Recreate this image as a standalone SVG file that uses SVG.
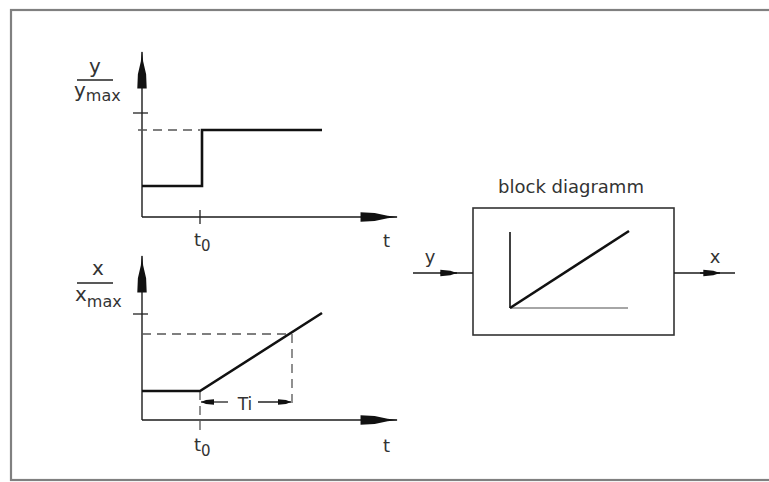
<svg xmlns="http://www.w3.org/2000/svg" width="769" height="482" viewBox="0 0 769 482">
<style>
.ax{stroke:#1a1a1a;stroke-width:1.4;fill:none}
.cv{stroke:#111;stroke-width:2.6;fill:none}
.ds{stroke:#555;stroke-width:1.3;fill:none;stroke-dasharray:9,6}
.tk{stroke:#222;stroke-width:1.3;fill:none}
.lb{font-family:"DejaVu Sans",sans-serif;fill:#333}
</style>
<defs>
<marker id="ah" markerUnits="userSpaceOnUse" orient="auto" refX="0" refY="0" markerWidth="40" markerHeight="20" viewBox="-32 -6 34 12" overflow="visible">
<path d="M1,0 L-8,-1 L-19,-3.5 L-31,-4 L-31,4 L-19,3.5 L-8,1 Z" fill="#111"/>
</marker>
<marker id="sh" markerUnits="userSpaceOnUse" orient="auto" refX="0" refY="0" markerWidth="20" markerHeight="10" viewBox="-16 -4 18 8" overflow="visible">
<path d="M0,0 L-6,-2 L-15,-3 L-15,3 L-6,2 Z" fill="#111"/>
</marker>
<marker id="dh" markerUnits="userSpaceOnUse" orient="auto" refX="0" refY="0" markerWidth="16" markerHeight="8" viewBox="-14 -4 16 8" overflow="visible">
<path d="M0,0 L-5,-2 L-13,-2.7 L-13,2.7 L-5,2 Z" fill="#111"/>
</marker>
</defs>
<rect x="0" y="0" width="769" height="482" fill="#fff"/>
<rect x="11" y="10" width="770" height="470" fill="none" stroke="#808080" stroke-width="2.2"/>

<g id="chart-y">
<line class="ax" x1="142" y1="217" x2="397" y2="217" marker-end="url(#ah)"/>
<line class="ax" x1="142" y1="217" x2="142" y2="52" marker-end="url(#ah)"/>
<line class="tk" x1="133" y1="113" x2="148" y2="113"/>
<line class="tk" x1="200" y1="210" x2="200" y2="224"/>
<line class="ds" x1="138" y1="130" x2="200" y2="130"/>
<polyline class="cv" points="142,186 202,186 202,130 322,130"/>
<text class="lb" x="95" y="73" font-size="20" text-anchor="middle">y</text>
<line class="tk" x1="77" y1="80" x2="113" y2="80"/>
<text class="lb" x="74" y="97" font-size="20">y<tspan font-size="16" dy="4">max</tspan></text>
<text class="lb" x="194" y="246" font-size="18">t<tspan font-size="15" dy="5">0</tspan></text>
<text class="lb" x="383" y="247" font-size="18">t</text>
</g>

<g id="chart-x">
<line class="ax" x1="142" y1="420" x2="397" y2="420" marker-end="url(#ah)"/>
<line class="ax" x1="142" y1="420" x2="142" y2="256" marker-end="url(#ah)"/>
<line class="tk" x1="133" y1="314" x2="148" y2="314"/>
<line class="ds" x1="142" y1="334" x2="290" y2="334"/>
<line class="ds" x1="292" y1="334" x2="292" y2="408"/>
<line class="ds" x1="200" y1="391" x2="200" y2="430"/>
<polyline class="cv" points="142,391 200,391 322,313"/>
<line class="tk" x1="228" y1="402" x2="201" y2="402" marker-end="url(#dh)"/>
<line class="tk" x1="258" y1="402" x2="291" y2="402" marker-end="url(#dh)"/>
<text class="lb" x="245" y="410" font-size="17" text-anchor="middle">Ti</text>
<text class="lb" x="98" y="275" font-size="20" text-anchor="middle">x</text>
<line class="tk" x1="77" y1="283" x2="113" y2="283"/>
<text class="lb" x="75" y="301" font-size="20">x<tspan font-size="16" dy="6">max</tspan></text>
<text class="lb" x="194" y="451" font-size="18">t<tspan font-size="15" dy="5">0</tspan></text>
<text class="lb" x="383" y="452" font-size="18">t</text>
</g>

<g id="block">
<rect x="473" y="208" width="201" height="127" fill="#fff" stroke="#333" stroke-width="1.6"/>
<text class="lb" x="571" y="193" font-size="18" text-anchor="middle">block diagramm</text>
<line x1="510" y1="232" x2="510" y2="308" stroke="#111" stroke-width="1.6"/>
<line x1="510" y1="308" x2="628" y2="308" stroke="#888" stroke-width="1.6"/>
<line x1="510" y1="308" x2="629" y2="231" stroke="#111" stroke-width="2.6"/>
</g>

<g id="connectors">
<line class="ax" x1="413" y1="273" x2="473" y2="273"/>
<line x1="440" y1="273" x2="457" y2="273" stroke="#111" stroke-width="1.4" marker-end="url(#sh)"/>
<line class="ax" x1="674" y1="273" x2="735" y2="273"/>
<line x1="700" y1="273" x2="720" y2="273" stroke="#111" stroke-width="1.4" marker-end="url(#sh)"/>
<text class="lb" x="430" y="263" font-size="18" text-anchor="middle">y</text>
<text class="lb" x="715" y="263" font-size="18" text-anchor="middle">x</text>
</g>
</svg>
